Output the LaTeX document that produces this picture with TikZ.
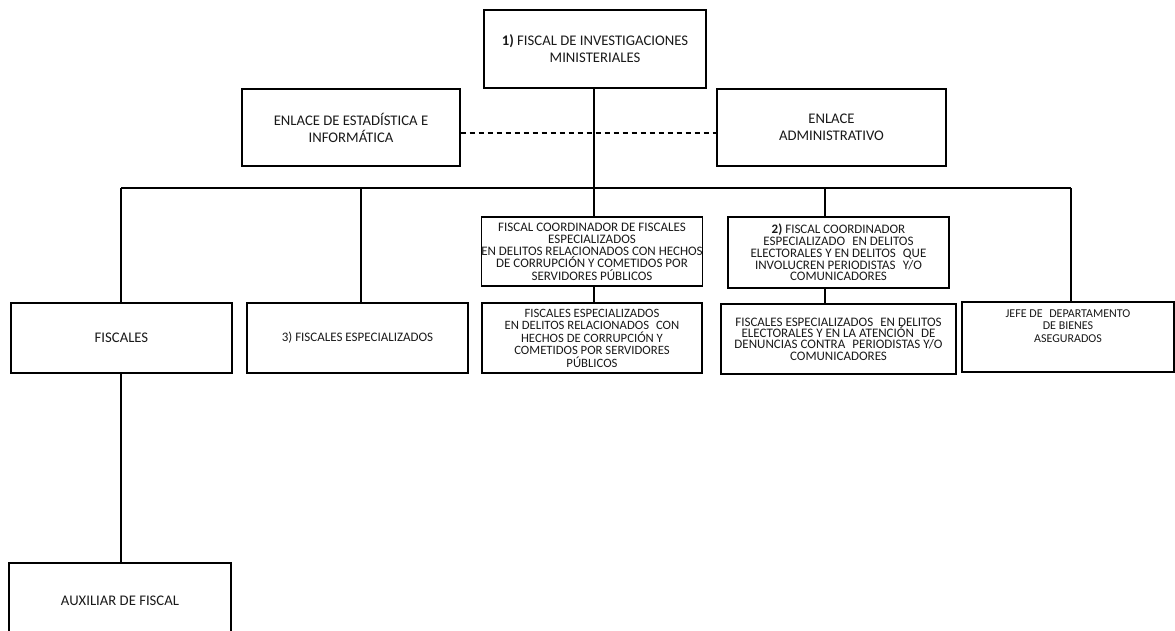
\documentclass[tikz,border=0pt]{standalone}
\usepackage{fontspec}
\setmainfont{Carlito}
\newcommand{\dsp}{\hspace{0.55em}}
\begin{document}
\begin{tikzpicture}[x=1pt,y=-1pt,
  box/.style={draw, line width=1.1pt, inner sep=0pt, align=center, text=black!90},
  big/.style={font=\fontsize{14.7}{17}\selectfont},
  sml/.style={font=\fontsize{13}{12.3}\selectfont},
  conn/.style={line width=1.1pt}]
\useasboundingbox (0,0) rectangle (1175,631);
\node[box,big,minimum width=222,minimum height=78] (top) at (595,49) {\textbf{1)} FISCAL DE INVESTIGACIONES\\MINISTERIALES};
\node[box,big,minimum width=218,minimum height=77] (enlE) at (351,127.5) {ENLACE DE ESTADÍSTICA E\\INFORMÁTICA};
\node[box,big,minimum width=229,minimum height=77] (enlA) at (831.5,127.5) {ENLACE\\ADMINISTRATIVO};
\node[box,big,minimum width=221,minimum height=70] (fis) at (121.5,338) {FISCALES};
\node[box,sml,minimum width=221,minimum height=70] (fesp) at (357.5,338) {3) FISCALES ESPECIALIZADOS};
\node[box,sml,minimum width=220,minimum height=69] (coordA) at (592,251.5) {FISCAL COORDINADOR DE FISCALES\\ESPECIALIZADOS\\EN DELITOS RELACIONADOS CON HECHOS\\DE CORRUPCIÓN Y COMETIDOS POR\\SERVIDORES PÚBLICOS};
\node[box,font=\fontsize{12.7}{12.5}\selectfont,minimum width=220,minimum height=70] (fespA) at (592,338) {FISCALES ESPECIALIZADOS\\EN DELITOS RELACIONADOS\dsp CON\\HECHOS DE CORRUPCIÓN Y\\COMETIDOS POR SERVIDORES\\PÚBLICOS};
\node[box,font=\fontsize{13}{11.8}\selectfont,minimum width=221,minimum height=71] (coordB) at (838.5,252.5) {\textbf{2)} FISCAL COORDINADOR\\ESPECIALIZADO\dsp EN DELITOS\\ELECTORALES Y EN DELITOS\dsp QUE\\INVOLUCREN PERIODISTAS\dsp Y/O\\COMUNICADORES};
\node[box,font=\fontsize{13}{11.4}\selectfont,minimum width=235,minimum height=70] (fespB) at (838.5,339) {FISCALES ESPECIALIZADOS\dsp EN DELITOS\\ELECTORALES Y EN LA ATENCIÓN\dsp DE\\DENUNCIAS CONTRA\dsp PERIODISTAS Y/O\\COMUNICADORES};
\node[box,minimum width=212,minimum height=70] (jefe) at (1068,337) {};
\node[font=\fontsize{12}{12.5}\selectfont,align=center,inner sep=0pt,text=black!90] (jefetxt) at ([yshift=11pt]jefe.center) {JEFE DE\dsp DEPARTAMENTO\\DE BIENES\\ASEGURADOS};
\node[box,big,minimum width=222,minimum height=76] (aux) at (120,601) {AUXILIAR DE FISCAL};
\coordinate (busL) at (121,188);
\coordinate (busR) at (1071,188);
\coordinate (dashy) at (0,133);
\draw[conn] (top.south -| 594,0) -- (coordA.north -| 594,0);
\draw[conn] (busL) -- (busR);
\draw[conn] (fis.north -| busL) -- (busL);
\draw[conn] (fesp.north -| 361,0) -- (361,188);
\draw[conn] (coordB.north -| 825,0) -- (825,188);
\draw[conn] (jefe.north -| busR) -- (busR);
\draw[conn] (coordA.south -| 594,0) -- (fespA.north -| 594,0);
\draw[conn] (coordB.south -| 825,0) -- (fespB.north -| 825,0);
\draw[conn] (fis.south -| 121,0) -- (aux.north -| 121,0);
\draw[conn,dashed,dash pattern=on 5pt off 4pt] (enlE.east |- dashy) -- (enlA.west |- dashy);
\end{tikzpicture}
\end{document}
